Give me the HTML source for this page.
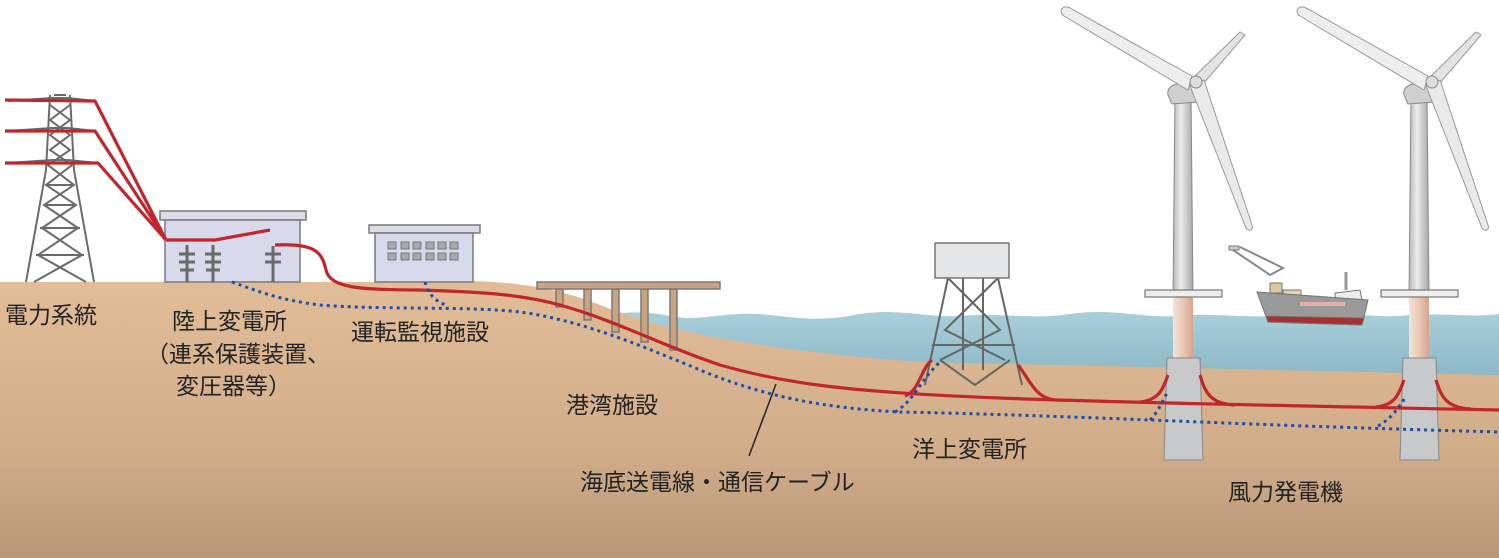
<!DOCTYPE html>
<html><head><meta charset="utf-8"><style>
html,body{margin:0;padding:0;background:#fff;}
svg{display:block;}
text{font-family:"Liberation Sans","Noto Sans CJK JP",sans-serif;font-size:23px;fill:#222;}
</style></head><body>
<svg width="1499" height="558" viewBox="0 0 1499 558" xmlns="http://www.w3.org/2000/svg">
<defs>
<linearGradient id="gnd" x1="0" y1="0" x2="0" y2="1">
<stop offset="0" stop-color="#e2bd98"/><stop offset="0.6" stop-color="#d2ad8a"/><stop offset="1" stop-color="#b89878"/></linearGradient>
<linearGradient id="sea" x1="0" y1="0" x2="0" y2="1">
<stop offset="0" stop-color="#a9d0da"/><stop offset="1" stop-color="#8ab6c6"/></linearGradient>
<linearGradient id="trans" x1="0" y1="0" x2="1" y2="0">
<stop offset="0" stop-color="#f3e4da"/><stop offset="0.5" stop-color="#e9c8b4"/><stop offset="1" stop-color="#d6a48c"/></linearGradient>
<linearGradient id="twr" x1="0" y1="0" x2="1" y2="0">
<stop offset="0" stop-color="#b8b8b8"/><stop offset="0.4" stop-color="#ececec"/><stop offset="1" stop-color="#a8a8a8"/></linearGradient>
<g id="turb">
<path d="M1175 95 L1191 95 L1193 297 L1173 297Z" fill="url(#twr)" stroke="#888" stroke-width="1"/>
<rect x="1173" y="297" width="20" height="62" fill="url(#trans)"/>
<path d="M1167 358 L1200 358 L1203 460 L1164 460Z" fill="#c8c9cb" stroke="#888" stroke-width="1"/>
<rect x="1145" y="290" width="77" height="7" fill="#eeeeee" stroke="#777" stroke-width="1.2"/>
<path d="M1168 95 C1166 85 1178 82 1196 82 L1198 102 L1172 104Z" fill="#cfcfcf" stroke="#888" stroke-width="1"/>
<path d="M1192 76 L1070 8 C1062 4 1058 12 1064 16 L1188 90Z" fill="#eeeeee" stroke="#999" stroke-width="1"/>
<path d="M1195 76 L1240 32 L1245 35 L1203 84Z" fill="#e4e4e4" stroke="#999" stroke-width="1"/>
<path d="M1190 86 L1246 228 C1249 232 1254 230 1252 225 L1204 80Z" fill="#eaeaea" stroke="#999" stroke-width="1"/>
<circle cx="1196" cy="82" r="6" fill="#ddd" stroke="#888"/>
</g>
</defs>
<!-- sea -->
<path d="M590 318 C620 312 640 310 670 316 C700 322 720 312 760 314 C800 318 820 322 860 314 C900 308 930 318 960 316 C1000 312 1030 320 1070 314 C1110 308 1140 318 1180 316 C1220 312 1250 320 1290 314 C1330 308 1360 318 1400 316 C1440 312 1470 318 1499 314 L1499 380 L590 380Z" fill="url(#sea)"/>
<!-- ground -->
<path d="M0 282 L420 282 C470 280 510 280 560 292 C600 302 620 316 680 330 C760 348 840 356 920 362 L1499 375 L1499 558 L0 558Z" fill="url(#gnd)"/>
<!-- pier -->
<g fill="#c9a47e" stroke="#7a7a7a" stroke-width="1.5">
<rect x="556" y="289" width="7" height="18"/><rect x="584" y="289" width="7" height="31"/><rect x="612" y="289" width="7" height="43"/><rect x="641" y="289" width="7" height="53"/><rect x="670" y="289" width="7" height="61"/>
<rect x="537" y="282" width="183" height="7"/>
</g>
<!-- transmission tower -->
<g stroke="#6a6a6a" stroke-width="2" fill="none">
<path d="M50 95 L46 170 L26 282 M70 95 L74 170 L94 282"/>
<path d="M50 105 L70 120 L50 135 L70 150 L48 165 L74 185 L44 205 L78 228 L38 255 L86 282 M70 105 L50 120 L70 135 L50 150 L72 165 L46 185 L76 205 L42 228 L82 255 L34 282"/>
<path d="M47 185 L73 185 M44 205 L76 205 M40 228 L80 228 M36 255 L84 255"/>
<path d="M8 101 L52 98 L68 98 L95 101 M8 131 L52 128 L68 128 L95 131 M8 163 L52 160 L68 160 L98 163"/>
<path d="M54 95 L66 95"/>
</g>
<!-- substation -->
<rect x="160" y="211" width="146" height="9" fill="#dcdce8" stroke="#7a7a7a" stroke-width="1.5"/>
<rect x="165" y="220" width="135" height="62" fill="#d9d9ec" stroke="#7a7a7a" stroke-width="1.5"/>
<g stroke="#6a6a6a" stroke-width="3">
<path d="M187 245 L187 282 M213 245 L213 282 M273 246 L273 282"/>
<path d="M179 254 L195 254 M179 262 L195 262 M180 270 L194 270 M205 254 L221 254 M205 262 L221 262 M206 270 L220 270 M265 254 L281 254 M265 262 L281 262"/>
</g>
<!-- monitoring building -->
<rect x="369" y="225" width="111" height="8" fill="#dcdce8" stroke="#7a7a7a" stroke-width="1.5"/>
<rect x="375" y="233" width="98" height="49" fill="#d9d9ec" stroke="#7a7a7a" stroke-width="1.5"/>
<g fill="#a8a8b0" stroke="#777" stroke-width="1">
<rect x="388" y="242" width="8" height="7"/><rect x="401" y="242" width="8" height="7"/><rect x="413" y="242" width="8" height="7"/><rect x="426" y="242" width="8" height="7"/><rect x="438" y="242" width="8" height="7"/><rect x="450" y="242" width="8" height="7"/>
<rect x="388" y="253" width="8" height="7"/><rect x="401" y="253" width="8" height="7"/><rect x="413" y="253" width="8" height="7"/><rect x="426" y="253" width="8" height="7"/><rect x="438" y="253" width="8" height="7"/><rect x="450" y="253" width="8" height="7"/>
</g>
<!-- offshore substation -->
<g stroke="#666" stroke-width="2" fill="none">
<path d="M948 278 L925 385 M998 278 L1022 385 M963 278 L963 370 M983 278 L983 370"/>
<path d="M948 278 L1000 330 L940 360 M998 278 L945 330 L1005 360 M940 360 L975 385 L1010 360 M932 345 L1015 345"/>
</g>
<rect x="935" y="243" width="74" height="35" fill="#e4e6e8" stroke="#777" stroke-width="1.5"/>
<!-- turbines -->
<use href="#turb"/>
<use href="#turb" transform="translate(236,0)"/>
<!-- ship -->
<g stroke="#777" stroke-width="1">
<path d="M1233 250 L1270 275 L1283 268 L1240 247" fill="none" stroke="#888" stroke-width="2"/>
<rect x="1229" y="246" width="10" height="4" fill="#ccc"/>
<rect x="1270" y="283" width="12" height="10" fill="#d9c8a0"/>
<rect x="1283" y="290" width="18" height="10" fill="#e6d2b0"/>
<path d="M1346 272 L1346 290" stroke="#999" stroke-width="3"/>
<path d="M1335 293 L1360 290 L1362 300 L1335 302Z" fill="#eee"/>
<path d="M1257 292 L1368 300 L1362 325 L1268 322Z" fill="#9a9a9a"/>
<path d="M1266 316 L1364 318 L1362 325 L1268 322Z" fill="#a83030"/>
<path d="M1300 302 L1345 302 L1345 306 L1300 306Z" fill="#e2b0a8" stroke="none"/>
</g>
<!-- red cables -->
<g stroke="#c0262c" stroke-width="3.2" fill="none" stroke-linejoin="round">
<path d="M5 100 L95 101 L166 240 M5 131 L95 131 L166 240 M5 163 L98 163 L166 240"/>
<path d="M166 240 L215 240 L270 230"/>
<path d="M275 245 C315 243 322 252 326 270 C330 288 360 290 420 290 C480 292 520 294 560 305 C620 322 660 345 720 365 C780 382 840 392 1000 398 C1100 402 1300 406 1499 410"/>
<path d="M905 396 C920 390 920 370 932 360 M1055 400 C1035 398 1030 380 1018 365"/>
<path d="M1140 402 C1160 400 1163 388 1168 375 M1235 405 C1210 404 1205 392 1200 375"/>
<path d="M1376 407 C1396 405 1399 393 1404 380 M1471 409 C1446 408 1441 396 1436 380"/>
</g>
<!-- blue dotted -->
<g stroke="#1e4fa8" stroke-width="3" fill="none" stroke-dasharray="3 4">
<path d="M232 282 C260 292 280 300 320 305 C380 310 470 306 520 312 C580 320 640 345 700 370 C760 395 820 408 900 412 C1000 414 1100 418 1150 420 C1250 424 1350 428 1499 432"/>
<path d="M425 282 C428 292 432 300 448 306"/>
<path d="M895 412 C915 400 920 380 940 362"/>
<path d="M1150 420 C1160 410 1162 400 1168 392"/>
<path d="M1378 426 C1392 418 1398 408 1405 398"/>
</g>
<!-- leader -->
<path d="M776 384 L749 456" stroke="#222" stroke-width="1.5"/>
<!-- labels -->
<text x="5" y="323">電力系統</text>
<text x="172" y="329">陸上変電所</text>
<text x="146" y="362">（連系保護装置、</text>
<text x="176" y="394">変圧器等）</text>
<text x="351" y="340">運転監視施設</text>
<text x="566" y="413">港湾施設</text>
<text x="580" y="490">海底送電線・通信ケーブル</text>
<text x="912" y="457">洋上変電所</text>
<text x="1228" y="500">風力発電機</text>
</svg>
</body></html>
